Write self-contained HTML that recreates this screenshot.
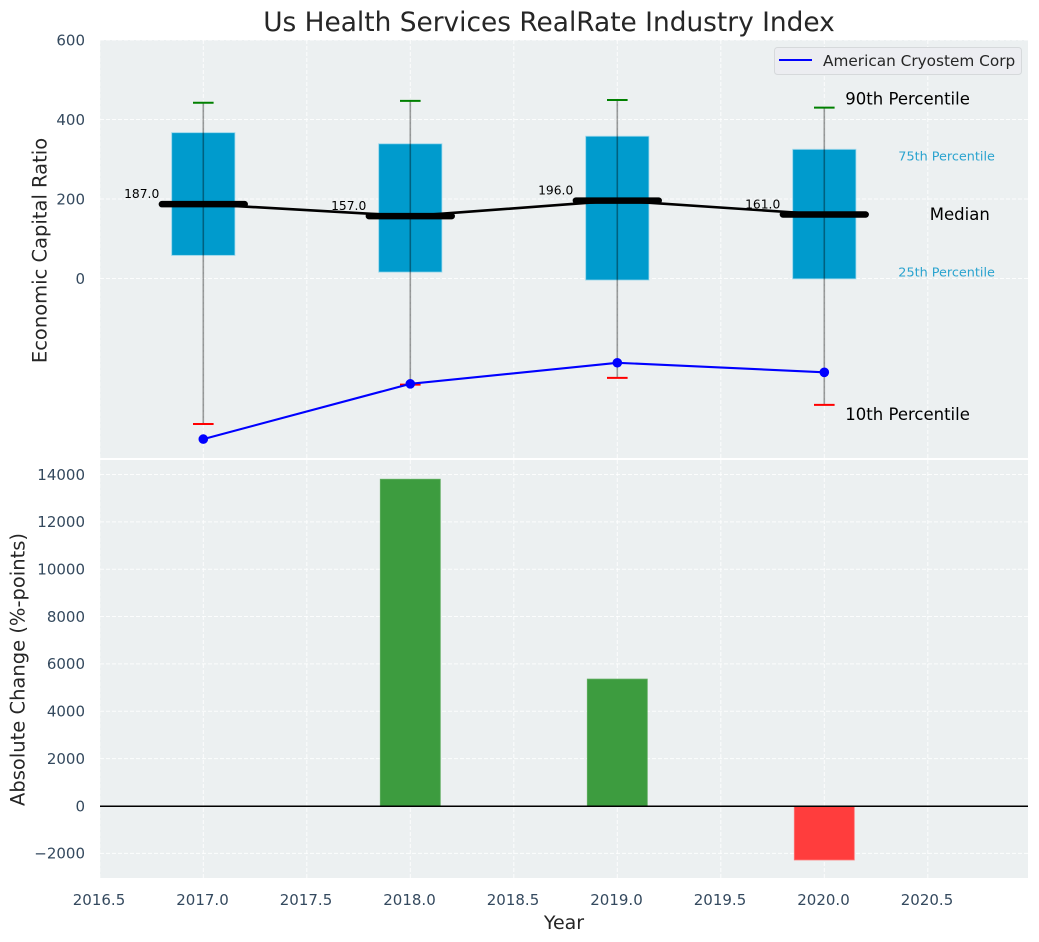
<!DOCTYPE html>
<html lang="en">
<head>
<meta charset="utf-8">
<title>Us Health Services RealRate Industry Index</title>
<style>
html,body{margin:0;padding:0;background:#fff;width:1039px;height:942px;overflow:hidden}
svg{display:block;font-family:"DejaVu Sans","Liberation Sans",sans-serif}
</style>
</head>
<body>
<svg id="chart" xmlns="http://www.w3.org/2000/svg" width="1039" height="942" viewBox="0 0 1039 942">
  <rect x="100" y="40" width="928" height="418" fill="#ecf0f1"/>
  <rect x="100" y="460" width="928" height="418" fill="#ecf0f1"/>
  <g id="grid"></g>
  <g id="marks"></g>
  <g id="labels"></g>
  <text x="549" y="31" font-size="26.4" fill="#262626" text-anchor="middle">Us Health Services RealRate Industry Index</text>
  <text transform="translate(46.5,250.5) rotate(-90)" font-size="19.5" fill="#262626" text-anchor="middle">Economic Capital Ratio</text>
  <text transform="translate(24.5,669.5) rotate(-90)" font-size="19.5" fill="#262626" text-anchor="middle">Absolute Change (%-points)</text>
  <text x="564" y="929" font-size="19" fill="#262626" text-anchor="middle">Year</text>
  <g>
    <rect x="774.5" y="47.5" width="247" height="27" rx="3" fill="#ecedf1" stroke="#d6d9db" stroke-width="1"/>
    <line x1="779" y1="60" x2="812" y2="60" stroke="#0000ff" stroke-width="2"/>
    <text x="823" y="66" font-size="15.3" fill="#262626">American Cryostem Corp</text>
  </g>
</svg>
<script>
const years = [2017, 2018, 2019, 2020];
const p90 = [442, 447, 449, 430];
const q3 = [367, 339, 358, 325];
const medians = [187, 157, 196, 161];
const q1 = [58, 16, -4, -1];
const p10 = [-366, -267, -250, -318];
const company = [-404, -265, -212, -236];
const changes = [0, 13800, 5360, -2280];
const xTicks = [2016.5, 2017, 2017.5, 2018, 2018.5, 2019, 2019.5, 2020, 2020.5];
const topYTicks = [0, 200, 400, 600];
const bottomYTicks = [-2000, 0, 2000, 4000, 6000, 8000, 10000, 12000, 14000];

const NS = 'http://www.w3.org/2000/svg';
const gridG = document.getElementById('grid');
const marksG = document.getElementById('marks');
const labelsG = document.getElementById('labels');

const X_PER_YEAR = 207;
const xScale = v => 203.3 + (v - 2017) * X_PER_YEAR;
const yTop = v => 278.5 - v * 0.3975;
const yBottom = v => 806 - v * 0.02368;
const TOP_RANGE = [40, 458];
const BOTTOM_RANGE = [460, 878];
const TICK_SIZE = 15;

function mk(parent, tag, props, text) {
  const n = document.createElementNS(NS, tag);
  for (const k in props) n.setAttribute(k, props[k]);
  if (text !== undefined) n.textContent = text;
  parent.appendChild(n);
  return n;
}
const fmt = v => (v < 0 ? '\u2212' + Math.abs(v) : String(v));
const gridStyle = {stroke: '#ffffff', 'stroke-width': 1, 'stroke-dasharray': '4 2', 'stroke-opacity': 0.85};

/* grid and ticks */
xTicks.forEach(t => {
  const x = xScale(t);
  [TOP_RANGE, BOTTOM_RANGE].forEach((r, i) => {
    const g = mk(gridG, 'line', Object.assign({x1: x, x2: x, y1: r[0], y2: r[1]}, gridStyle));
    
    
  });
  const lab = mk(labelsG, 'text', {x: x - 0.8, y: 905, 'font-size': TICK_SIZE, fill: '#34495e', 'text-anchor': 'middle'}, t.toFixed(1));
  
  
});
topYTicks.forEach(t => {
  const y = yTop(t);
  const g = mk(gridG, 'line', Object.assign({x1: 100, x2: 1028, y1: y, y2: y}, gridStyle));
  
  
  const lab = mk(labelsG, 'text', {x: 85, y: y + 5.3, 'font-size': TICK_SIZE, fill: '#34495e', 'text-anchor': 'end'}, fmt(t));
  
  
});
bottomYTicks.forEach(t => {
  const y = yBottom(t);
  const g = mk(gridG, 'line', Object.assign({x1: 100, x2: 1028, y1: y, y2: y}, gridStyle));
  
  
  const lab = mk(labelsG, 'text', {x: 85, y: y + 5.3, 'font-size': TICK_SIZE, fill: '#34495e', 'text-anchor': 'end'}, fmt(t));
  
  
});

/* boxes */
years.forEach((yr, i) => {
  const x = xScale(yr);
  const top = yTop(q3[i]);
  const bot = yTop(q1[i]);
  const box = mk(marksG, 'rect', {x: x - 0.153 * X_PER_YEAR, y: top, width: 0.306 * X_PER_YEAR, height: bot - top, fill: '#009bcd', stroke: '#a9dcee', 'stroke-width': 1, 'stroke-opacity': 0.8});
  
  
});

/* median connector */
const medianPath = mk(marksG, 'polyline', {
  points: years.map((yr, i) => xScale(yr) + ',' + yTop(medians[i])).join(' '),
  fill: 'none', stroke: '#000', 'stroke-width': 2.6
});



years.forEach((yr, i) => {
  const x = xScale(yr);
  const whisker = mk(marksG, 'line', {x1: x, x2: x, y1: yTop(p90[i]), y2: yTop(p10[i]), stroke: '#000', 'stroke-width': 1.6, 'stroke-opacity': 0.38});
  
  

  const capHi = mk(marksG, 'line', {x1: x - 10.3, x2: x + 10.3, y1: yTop(p90[i]), y2: yTop(p90[i]), stroke: '#008000', 'stroke-width': 2});
  
  

  const capLo = mk(marksG, 'line', {x1: x - 10.3, x2: x + 10.3, y1: yTop(p10[i]), y2: yTop(p10[i]), stroke: '#ff0000', 'stroke-width': 2});
  
  

  const med = mk(marksG, 'line', {x1: x - 0.2 * X_PER_YEAR, x2: x + 0.2 * X_PER_YEAR, y1: yTop(medians[i]), y2: yTop(medians[i]), stroke: '#000', 'stroke-width': 6.5, 'stroke-linecap': 'round'});
  
  

  const val = mk(labelsG, 'text', {x: x - 44, y: yTop(medians[i]) - 6, 'font-size': 12.3, fill: '#000', 'text-anchor': 'end'}, medians[i].toFixed(1));
  
  
});

/* company line */
const companyLine = mk(marksG, 'polyline', {
  points: years.map((yr, i) => xScale(yr) + ',' + yTop(company[i])).join(' '),
  fill: 'none', stroke: '#0000ff', 'stroke-width': 2.1
});


years.forEach((yr, i) => {
  const pt = mk(marksG, 'circle', {cx: xScale(yr), cy: yTop(company[i]), r: 4.8, fill: '#0000ff'});
  
  
});

/* percentile key beside the last box */
const last = years.length - 1;
const lastX = xScale(years[last]);
const key90 = mk(labelsG, 'text', {x: lastX + 21, y: yTop(p90[last]) - 3, 'font-size': 16.5, fill: '#000'}, '90th Percentile');


const key75 = mk(labelsG, 'text', {x: lastX + 74, y: yTop(q3[last]) + 11, 'font-size': 12.8, fill: '#2aa3cf'}, '75th Percentile');


const keyMed = mk(labelsG, 'text', {x: lastX + 105.5, y: yTop(medians[last]) + 5.5, 'font-size': 16.5, fill: '#000'}, 'Median');


const key25 = mk(labelsG, 'text', {x: lastX + 74, y: yTop(q1[last]) - 2.5, 'font-size': 12.8, fill: '#2aa3cf'}, '25th Percentile');


const key10 = mk(labelsG, 'text', {x: lastX + 21, y: yTop(p10[last]) + 15, 'font-size': 16.5, fill: '#000'}, '10th Percentile');



/* change bars */
years.forEach((yr, i) => {
  const v = changes[i];
  if (v === 0) return;
  const y0 = yBottom(0);
  const y1 = yBottom(v);
  const bar = mk(marksG, 'rect', {
    x: xScale(yr) - 0.145 * X_PER_YEAR, y: Math.min(y0, y1),
    width: 0.29 * X_PER_YEAR, height: Math.abs(y1 - y0),
    fill: v > 0 ? '#3d9c3f' : '#ff3d3d',
    stroke: v > 0 ? '#5fae60' : '#ff7a7a', 'stroke-width': 0.8
  });
  
  
});
const zero = mk(marksG, 'line', {x1: 100, x2: 1028, y1: yBottom(0) + 0.2, y2: yBottom(0) + 0.2, stroke: '#000', 'stroke-width': 1.5});


</script>
</body>
</html>
